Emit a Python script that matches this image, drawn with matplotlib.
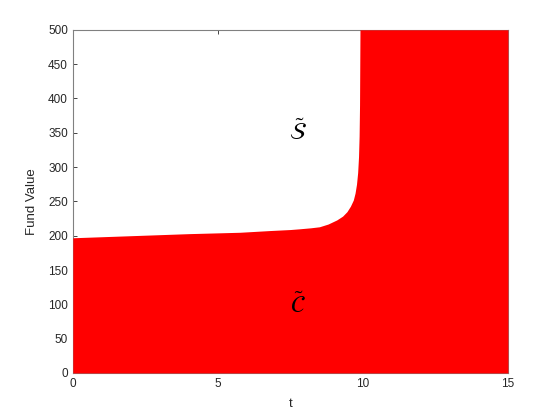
import matplotlib
matplotlib.use("Agg")
import matplotlib.pyplot as plt

# boundary between continuation (C) and stopping (S) regions
t_vals = [0, 2, 4, 5.76, 6.79, 7.5, 7.8, 8.2, 8.5, 8.8, 9.1, 9.3, 9.45, 9.57, 9.67, 9.73, 9.78, 9.82, 9.85, 9.87, 9.885, 9.9, 15]
boundary = [197, 200, 203, 205, 207.5, 209, 210, 211.5, 213, 217, 223, 228.5, 235, 243, 252, 262, 275, 292, 315, 345, 390, 500, 500]

x_ticks = [0, 5, 10, 15]
y_ticks = list(range(0, 501, 50))

plt.rcParams['font.family'] = ['Liberation Sans', 'DejaVu Sans']
plt.rcParams['mathtext.fontset'] = 'stix'

fig = plt.figure(figsize=(5.6, 4.2), dpi=100)
ax = fig.add_axes([0.130, 0.112, 0.777, 0.817])

ax.fill_between(t_vals, 0, boundary, color='#ff0000', linewidth=0, zorder=3, clip_on=False)

ax.set_xlim(0, 15)
ax.set_ylim(0, 500)
ax.set_xticks(x_ticks)
ax.set_yticks(y_ticks)
ax.tick_params(direction='in', length=3, labelsize=8.5, colors='#262626', top=True, right=True, width=0.6)
for s in ax.spines.values():
    s.set_color('#808080')
    s.set_linewidth(0.8)

ax.set_xlabel('t', fontsize=9.5, color='#262626', labelpad=6)
ax.set_ylabel('Fund Value', fontsize=9.5, color='#262626', labelpad=7)

ax.text(7.75, 350, r'$\tilde{\mathcal{S}}$', fontsize=17, ha='center', va='center', zorder=4)
ax.text(7.75, 100, r'$\tilde{\mathcal{C}}$', fontsize=17, ha='center', va='center', zorder=4)

fig.savefig('out.png', dpi=100)
